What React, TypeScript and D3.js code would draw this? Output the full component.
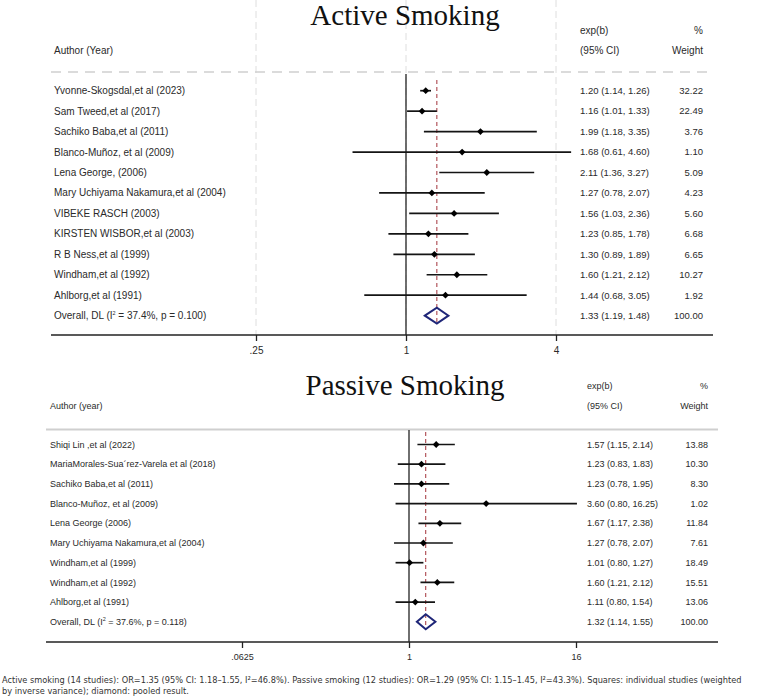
import React, { useEffect, useRef } from 'react';
import * as d3 from 'd3';

// Active smoking studies
const activeAuthors = [
  'Yvonne-Skogsdal,et al (2023)',
  'Sam Tweed,et al (2017)',
  'Sachiko Baba,et al (2011)',
  'Blanco-Muñoz, et al (2009)',
  'Lena George, (2006)',
  'Mary Uchiyama Nakamura,et al (2004)',
  'VIBEKE RASCH (2003)',
  'KIRSTEN WISBOR,et al (2003)',
  'R B Ness,et al (1999)',
  'Windham,et al (1992)',
  'Ahlborg,et al (1991)',
];
const activeOR = [1.2, 1.16, 1.99, 1.68, 2.11, 1.27, 1.56, 1.23, 1.3, 1.6, 1.44];
const activeLow = [1.14, 1.01, 1.18, 0.61, 1.36, 0.78, 1.03, 0.85, 0.89, 1.21, 0.68];
const activeHigh = [1.26, 1.33, 3.35, 4.6, 3.27, 2.07, 2.36, 1.78, 1.89, 2.12, 3.05];
const activeWeight = [32.22, 22.49, 3.76, 1.1, 5.09, 4.23, 5.6, 6.68, 6.65, 10.27, 1.92];
const activeOverall = [1.33, 1.19, 1.48];
const activeHet = ['37.4%', '0.100'];
const activeTicks = [0.25, 1, 4];
const activeTickLabels = ['.25', '1', '4'];

// Passive smoking studies
const passiveAuthors = [
  'Shiqi Lin ,et al (2022)',
  'MariaMorales-Sua´rez-Varela et al (2018)',
  'Sachiko Baba,et al (2011)',
  'Blanco-Muñoz, et al (2009)',
  'Lena George (2006)',
  'Mary Uchiyama Nakamura,et al (2004)',
  'Windham,et al (1999)',
  'Windham,et al (1992)',
  'Ahlborg,et al (1991)',
];
const passiveOR = [1.57, 1.23, 1.23, 3.6, 1.67, 1.27, 1.01, 1.6, 1.11];
const passiveLow = [1.15, 0.83, 0.78, 0.8, 1.17, 0.78, 0.8, 1.21, 0.8];
const passiveHigh = [2.14, 1.83, 1.95, 16.25, 2.38, 2.07, 1.27, 2.12, 1.54];
const passiveWeight = [13.88, 10.3, 8.3, 1.02, 11.84, 7.61, 18.49, 15.51, 13.06];
const passiveOverall = [1.32, 1.14, 1.55];
const passiveHet = ['37.6%', '0.118'];
const passiveTicks = [0.0625, 1, 16];
const passiveTickLabels = ['.0625', '1', '16'];

const captionLines = [
  'Active smoking (14 studies): OR=1.35 (95% CI: 1.18–1.55, I²=46.8%). Passive smoking (12 studies): OR=1.29 (95% CI: 1.15–1.45, I²=43.3%). Squares: individual studies (weighted',
  'by inverse variance); diamond: pooled result.',
];

const SANS = '"Liberation Sans", Arial, sans-serif';
const SERIF = '"Liberation Serif", "Times New Roman", serif';
const NARROW = '"Liberation Sans Narrow", "DejaVu Sans Condensed", sans-serif';
const TXT = '#2a2a2a';

const panels = [
  {
    title: 'Active Smoking', authorHead: 'Author (Year)',
    authors: activeAuthors, or: activeOR, lo: activeLow, hi: activeHigh, wt: activeWeight,
    overall: activeOverall, het: activeHet, ticks: activeTicks, tickLabels: activeTickLabels,
    titleY: 25, h1: 30, h2: 50, sepY: 72, sepDash: true, row0: 90.7, step: 20.45,
    axisY: 335, x0: 51, x1: 713, range: [256, 556], textX: 54, estX: 580, wtX: 703,
    font: 10, estFont: 9.5, grid: true, vTop: 74, rTop: 80, dia: 8,
  },
  {
    title: 'Passive Smoking', authorHead: 'Author (year)',
    authors: passiveAuthors, or: passiveOR, lo: passiveLow, hi: passiveHigh, wt: passiveWeight,
    overall: passiveOverall, het: passiveHet, ticks: passiveTicks, tickLabels: passiveTickLabels,
    titleY: 395, h1: 386, h2: 406, sepY: 429.5, sepDash: false, row0: 444.5, step: 19.7,
    axisY: 642, x0: 46, x1: 718, range: [242, 576], textX: 50, estX: 587, wtX: 708,
    font: 9, estFont: 9, grid: false, vTop: 430, rTop: 432, dia: 7.5,
  },
];

const fmt = (v: number) => v.toFixed(2);

export default function App() {
  const svgRef = useRef<SVGSVGElement>(null);

  useEffect(() => {
    if (!svgRef.current) return;
    const svg = d3.select(svgRef.current);
    svg.selectAll('*').remove();

    panels.forEach((p) => {
      const x = d3.scaleLog().base(2)
        .domain([p.ticks[0], p.ticks[2]])
        .range(p.range);
      const rowY = (i: number) => p.row0 + i * p.step;
      const n = p.authors.length;
      const g = svg.append('g');

      // light gridlines (top panel only)
      if (p.grid) {
        g.selectAll('.grid')
          .data(p.ticks)
          .enter().append('line')
          .attr('x1', (d) => x(d)).attr('x2', (d) => x(d))
          .attr('y1', 0).attr('y2', p.axisY)
          .attr('stroke', '#dedede')
          .attr('stroke-width', 1)
          .attr('stroke-dasharray', '7,4');
      }

      // title
      g.append('text')
        .attr('x', 405).attr('y', p.titleY)
        .attr('text-anchor', 'middle')
        .style('font-family', SERIF)
        .style('font-size', '29px')
        .style('fill', '#111')
        .text(p.title);

      // headers
      const head = (tx: number, ty: number, s: string, anchor = 'start') =>
        g.append('text')
          .attr('x', tx).attr('y', ty).attr('dy', '0.35em')
          .attr('text-anchor', anchor)
          .style('font-family', SANS)
          .style('font-size', `${p.font}px`)
          .style('fill', TXT)
          .text(s);
      head(p.textX, p.h2, p.authorHead);
      head(p.estX, p.h1, 'exp(b)');
      head(p.estX, p.h2, '(95% CI)');
      head(p.wtX, p.h1, '%', 'end');
      head(p.wtX, p.h2, 'Weight', 'end');

      // header separator
      g.append('line')
        .attr('x1', p.x0).attr('x2', p.x1)
        .attr('y1', p.sepY).attr('y2', p.sepY)
        .attr('stroke', '#cfcfcf')
        .attr('stroke-width', p.sepDash ? 1.5 : 2)
        .attr('stroke-dasharray', p.sepDash ? '10,7' : null);

      // null line at 1
      g.append('line')
        .attr('x1', x(1)).attr('x2', x(1))
        .attr('y1', p.vTop).attr('y2', p.axisY)
        .attr('stroke', '#333')
        .attr('stroke-width', 1.4);

      // overall effect line
      g.append('line')
        .attr('x1', x(p.overall[0])).attr('x2', x(p.overall[0]))
        .attr('y1', p.rTop).attr('y2', rowY(n) + p.dia)
        .attr('stroke', '#a3333a')
        .attr('stroke-width', 1)
        .attr('stroke-dasharray', '4,3');

      // CI lines
      g.selectAll('.ci')
        .data(d3.range(n))
        .enter().append('line')
        .attr('x1', (i) => x(p.lo[i])).attr('x2', (i) => x(p.hi[i]))
        .attr('y1', (i) => rowY(i)).attr('y2', (i) => rowY(i))
        .attr('stroke', '#141414')
        .attr('stroke-width', 1.7);

      // point estimates
      const m = 3.4;
      g.selectAll('.pt')
        .data(d3.range(n))
        .enter().append('path')
        .attr('d', (i) => {
          const cx = x(p.or[i]), cy = rowY(i);
          return `M${cx},${cy - m}L${cx + m},${cy}L${cx},${cy + m}L${cx - m},${cy}Z`;
        })
        .attr('fill', '#000');

      // pooled diamond
      const oy = rowY(n);
      g.append('path')
        .attr('d', `M${x(p.overall[1])},${oy}L${x(p.overall[0])},${oy - p.dia}L${x(p.overall[2])},${oy}L${x(p.overall[0])},${oy + p.dia}Z`)
        .attr('fill', 'none')
        .attr('stroke', '#1f2678')
        .attr('stroke-width', 2);

      // study labels
      const rowText = (tx: number, ty: number, s: string, anchor: string, fs: number) =>
        g.append('text')
          .attr('x', tx).attr('y', ty).attr('dy', '0.35em')
          .attr('text-anchor', anchor)
          .style('font-family', SANS)
          .style('font-size', `${fs}px`)
          .style('fill', TXT)
          .text(s);
      p.authors.forEach((a, i) => {
        rowText(p.textX, rowY(i), a, 'start', p.font);
        rowText(p.estX, rowY(i), `${fmt(p.or[i])} (${fmt(p.lo[i])}, ${fmt(p.hi[i])})`, 'start', p.estFont);
        rowText(p.wtX, rowY(i), fmt(p.wt[i]), 'end', p.estFont);
      });

      // overall row
      const ot = g.append('text')
        .attr('x', p.textX).attr('y', oy).attr('dy', '0.35em')
        .style('font-family', SANS)
        .style('font-size', `${p.font}px`)
        .style('fill', TXT);
      ot.append('tspan').text('Overall, DL (I');
      ot.append('tspan').attr('dy', -4).style('font-size', '5.5px').text('2');
      ot.append('tspan').attr('dy', 4).text(` = ${p.het[0]}, p = ${p.het[1]})`);
      rowText(p.estX, oy, `${fmt(p.overall[0])} (${fmt(p.overall[1])}, ${fmt(p.overall[2])})`, 'start', p.estFont);
      rowText(p.wtX, oy, '100.00', 'end', p.estFont);

      // x axis
      g.append('line')
        .attr('x1', p.x0).attr('x2', p.x1)
        .attr('y1', p.axisY).attr('y2', p.axisY)
        .attr('stroke', '#222')
        .attr('stroke-width', 1.5);
      const axis = d3.axisBottom(x)
        .tickValues(p.ticks)
        .tickFormat((_d, i) => p.tickLabels[i])
        .tickSize(6)
        .tickPadding(6);
      const ax = g.append('g')
        .attr('transform', `translate(0,${p.axisY})`)
        .call(axis);
      ax.select('.domain').remove();
      ax.selectAll('.tick line').attr('stroke', '#222').attr('stroke-width', 1.3);
      ax.selectAll('.tick text')
        .style('font-family', SANS)
        .style('font-size', `${p.font}px`)
        .style('fill', TXT);
    });

    // caption: shrink font so the first line fits the page width
    const cap1 = svg.append('text')
      .attr('x', 2).attr('y', 683)
      .style('font-family', NARROW)
      .style('font-size', '9.5px')
      .style('fill', '#333')
      .text(captionLines[0]);
    const natural = (cap1.node() as SVGTextElement).getComputedTextLength();
    const fs = natural > 740 ? (9.5 * 740) / natural : 9.5;
    cap1.style('font-size', `${fs}px`);
    svg.append('text')
      .attr('x', 2).attr('y', 694)
      .style('font-family', NARROW)
      .style('font-size', `${fs}px`)
      .style('fill', '#333')
      .text(captionLines[1]);
  }, []);

  return (
    <div style={{ position: 'absolute', left: 0, top: 0, width: 758, height: 699, background: '#fff' }}>
      <svg ref={svgRef} width={758} height={699}></svg>
    </div>
  );
}
